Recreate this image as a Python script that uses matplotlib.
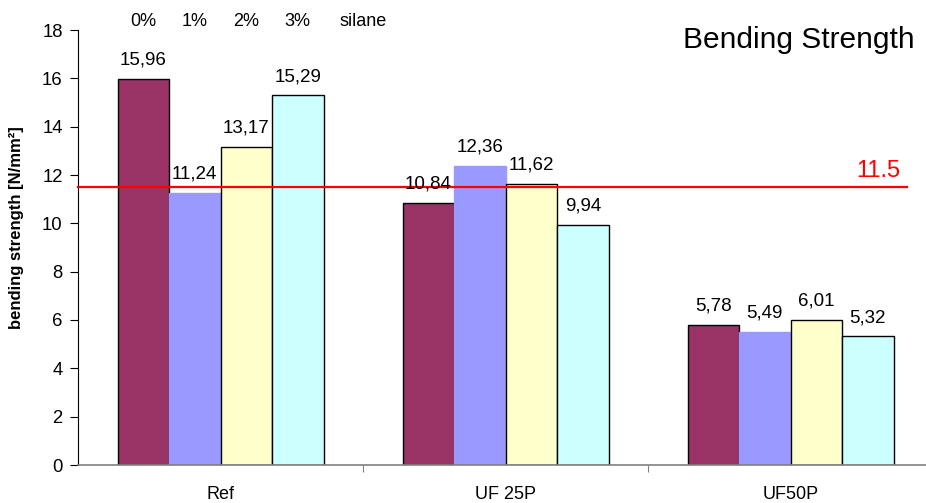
import matplotlib
matplotlib.use("Agg")
import matplotlib.pyplot as plt
import numpy as np

plt.rcParams['font.family'] = ['Liberation Sans', 'DejaVu Sans']

categories = ["Ref", "UF 25P", "UF50P"]
series_names = ["0%", "1%", "2%", "3%"]
values_0 = [15.96, 10.84, 5.78]
values_1 = [11.24, 12.36, 5.49]
values_2 = [13.17, 11.62, 6.01]
values_3 = [15.29, 9.94, 5.32]
series_values = [values_0, values_1, values_2, values_3]
colors = ["#993366", "#9999FF", "#FFFFCC", "#CCFFFF"]
edgecolors = ["#000000", "#9999FF", "#000000", "#000000"]
threshold = 11.5
title = "Bending Strength"
ylabel = "bending strength [N/mm²]"

W, H = 926, 503
fig = plt.figure(figsize=(W / 100, H / 100), dpi=100)
ax = fig.add_axes([78 / W, 38 / H, (W - 78) / W, 435 / H])

x = np.arange(len(categories))
bw = 0.1807
offsets = (np.arange(4) - 1.5) * bw
for i, vals in enumerate(series_values):
    xs = x + offsets[i]
    ax.bar(xs, vals, width=bw, color=colors[i], edgecolor=edgecolors[i],
           linewidth=1.0, zorder=2)
    for xx, v in zip(xs, vals):
        ax.annotate(f"{v:.2f}".replace(".", ","), (xx, v), xytext=(0, 7.5),
                    textcoords="offset points", ha="center", va="bottom",
                    fontsize=13.5, zorder=4)

# header labels above first group
for i, name in enumerate(series_names):
    ax.text(x[0] + offsets[i], 18.37, name, ha="center", va="center",
            fontsize=13, clip_on=False)
ax.text(x[0] + 0.5, 18.37, "silane", ha="center", va="center",
        fontsize=13, clip_on=False)

# threshold line
ax.plot([-0.5, 2.409], [threshold, threshold], color="#FF0000", lw=1.6,
        zorder=3, clip_on=False)
ax.text(2.384, threshold + 0.2, f"{threshold}", color="#FF0000",
        ha="right", va="bottom", fontsize=17)

ax.set_xlim(-0.5, 2.4754)
ax.set_ylim(0, 18)
ax.set_yticks(np.arange(0, 19, 2))
ax.tick_params(axis="y", direction="out", length=6, width=0.8, pad=5,
               labelsize=13.3)

ax.set_xticks(x)
ax.set_xticklabels(categories, fontsize=13)
ax.tick_params(axis="x", which="major", length=0, pad=15)
ax.set_xticks([0.5, 1.5], minor=True)
ax.tick_params(axis="x", which="minor", direction="out", length=5,
               width=0.8, color="#808080")

for s in ["top", "right"]:
    ax.spines[s].set_visible(False)
ax.spines["bottom"].set_color("#808080")
ax.spines["bottom"].set_linewidth(1.2)
ax.spines["left"].set_color("black")
ax.spines["left"].set_linewidth(0.8)

fig.text(915 / W, 1 - 40 / H, title, ha="right", va="center", fontsize=21.5)
fig.text(17 / W, 1 - 228 / H, ylabel, rotation=90, ha="center",
         va="center", fontsize=12, fontweight="bold")

fig.savefig("out.png", dpi=100)
